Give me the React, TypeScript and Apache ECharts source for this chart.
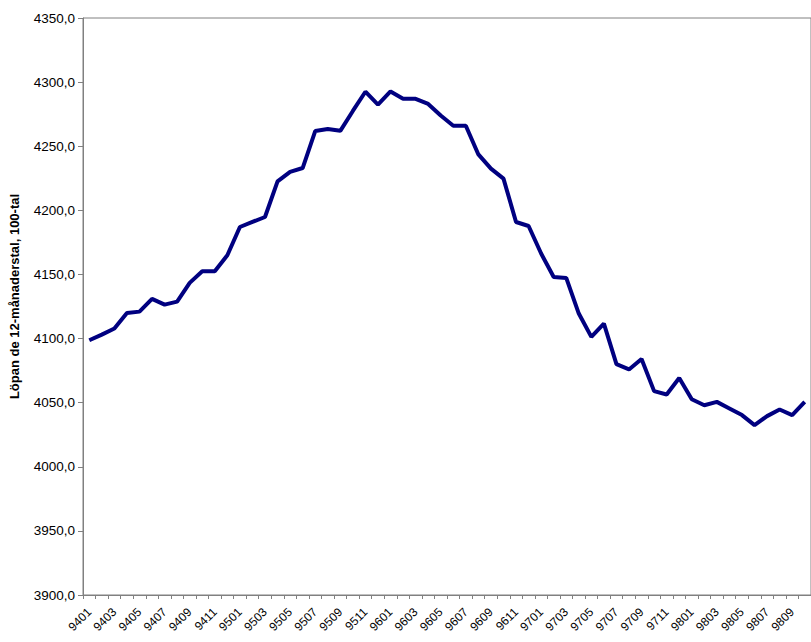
import React, { useEffect, useRef } from "react";
import * as echarts from "echarts";

const categories: string[] = [
  "9401","9402","9403","9404","9405","9406","9407","9408","9409","9410","9411","9412",
  "9501","9502","9503","9504","9505","9506","9507","9508","9509","9510","9511","9512",
  "9601","9602","9603","9604","9605","9606","9607","9608","9609","9610","9611","9612",
  "9701","9702","9703","9704","9705","9706","9707","9708","9709","9710","9711","9712",
  "9801","9802","9803","9804","9805","9806","9807","9808","9809","9810",
];

const values: number[] = [
  4098.7, 4103.1, 4107.8, 4120.0, 4121.0, 4130.9, 4126.5, 4128.8, 4143.4, 4152.5, 4152.5, 4165.0,
  4187.0, 4191.0, 4194.8, 4222.6, 4230.0, 4233.0, 4261.8, 4263.4, 4262.0, 4277.5, 4292.5, 4282.4,
  4292.7, 4287.0, 4287.0, 4283.0, 4274.0, 4266.0, 4266.0, 4243.6, 4232.5, 4224.7, 4190.9, 4187.8,
  4166.3, 4148.0, 4147.3, 4119.5, 4101.3, 4111.7, 4080.0, 4075.9, 4084.0, 4059.0, 4056.4, 4069.3,
  4052.7, 4048.0, 4050.6, 4045.5, 4040.3, 4032.5, 4039.5, 4044.7, 4040.3, 4050.6,
];

const yMin = 3900;
const yMax = 4350;
const yStep = 50;
const yTitle = "Löpan de 12-månaderstal, 100-tal";

export default function App() {
  const ref = useRef<HTMLDivElement>(null);
  useEffect(() => {
    document.body.style.margin = "0";
    const chart = echarts.init(ref.current!, null, { renderer: "svg" });
    chart.setOption({
      animation: false,
      backgroundColor: "#ffffff",
      grid: {
        left: 81,
        top: 18,
        right: -5.5,
        bottom: 47,
        show: true,
        borderColor: "#808080",
        borderWidth: 1,
      },
      xAxis: {
        type: "category",
        data: categories,
        boundaryGap: true,
        axisLine: { lineStyle: { color: "#808080", width: 1 } },
        axisTick: { show: true, interval: 0, length: 4, lineStyle: { color: "#808080" } },
        axisLabel: {
          interval: 1,
          rotate: 45,
          fontFamily: "Liberation Sans, Arial, sans-serif",
          fontSize: 12,
          color: "#000",
          margin: 15,
        },
        splitLine: { show: false },
      },
      yAxis: {
        type: "value",
        min: yMin,
        max: yMax,
        interval: yStep,
        name: yTitle,
        nameLocation: "middle",
        nameRotate: 90,
        nameGap: 62,
        nameTextStyle: {
          fontFamily: "Liberation Sans, Arial, sans-serif",
          fontSize: 13,
          fontWeight: "bold",
          color: "#000",
          padding: [0, 0, 0, 20],
        },
        axisLine: { show: true, lineStyle: { color: "#808080", width: 1 } },
        axisTick: { show: true, length: 5, lineStyle: { color: "#808080" } },
        axisLabel: {
          formatter: (v: number) => v.toFixed(1).replace(".", ","),
          fontFamily: "Liberation Sans, Arial, sans-serif",
          fontSize: 13.5,
          color: "#000",
          margin: 8,
        },
        splitLine: { show: false },
      },
      series: [
        {
          type: "line",
          data: values,
          symbol: "none",
          lineStyle: { color: "#000080", width: 4 },
          itemStyle: { color: "#000080" },
        },
      ],
    });
    return () => chart.dispose();
  }, []);
  return (
    <div
      ref={ref}
      style={{ position: "absolute", left: 0, top: 0, width: 811, height: 642 }}
    />
  );
}
